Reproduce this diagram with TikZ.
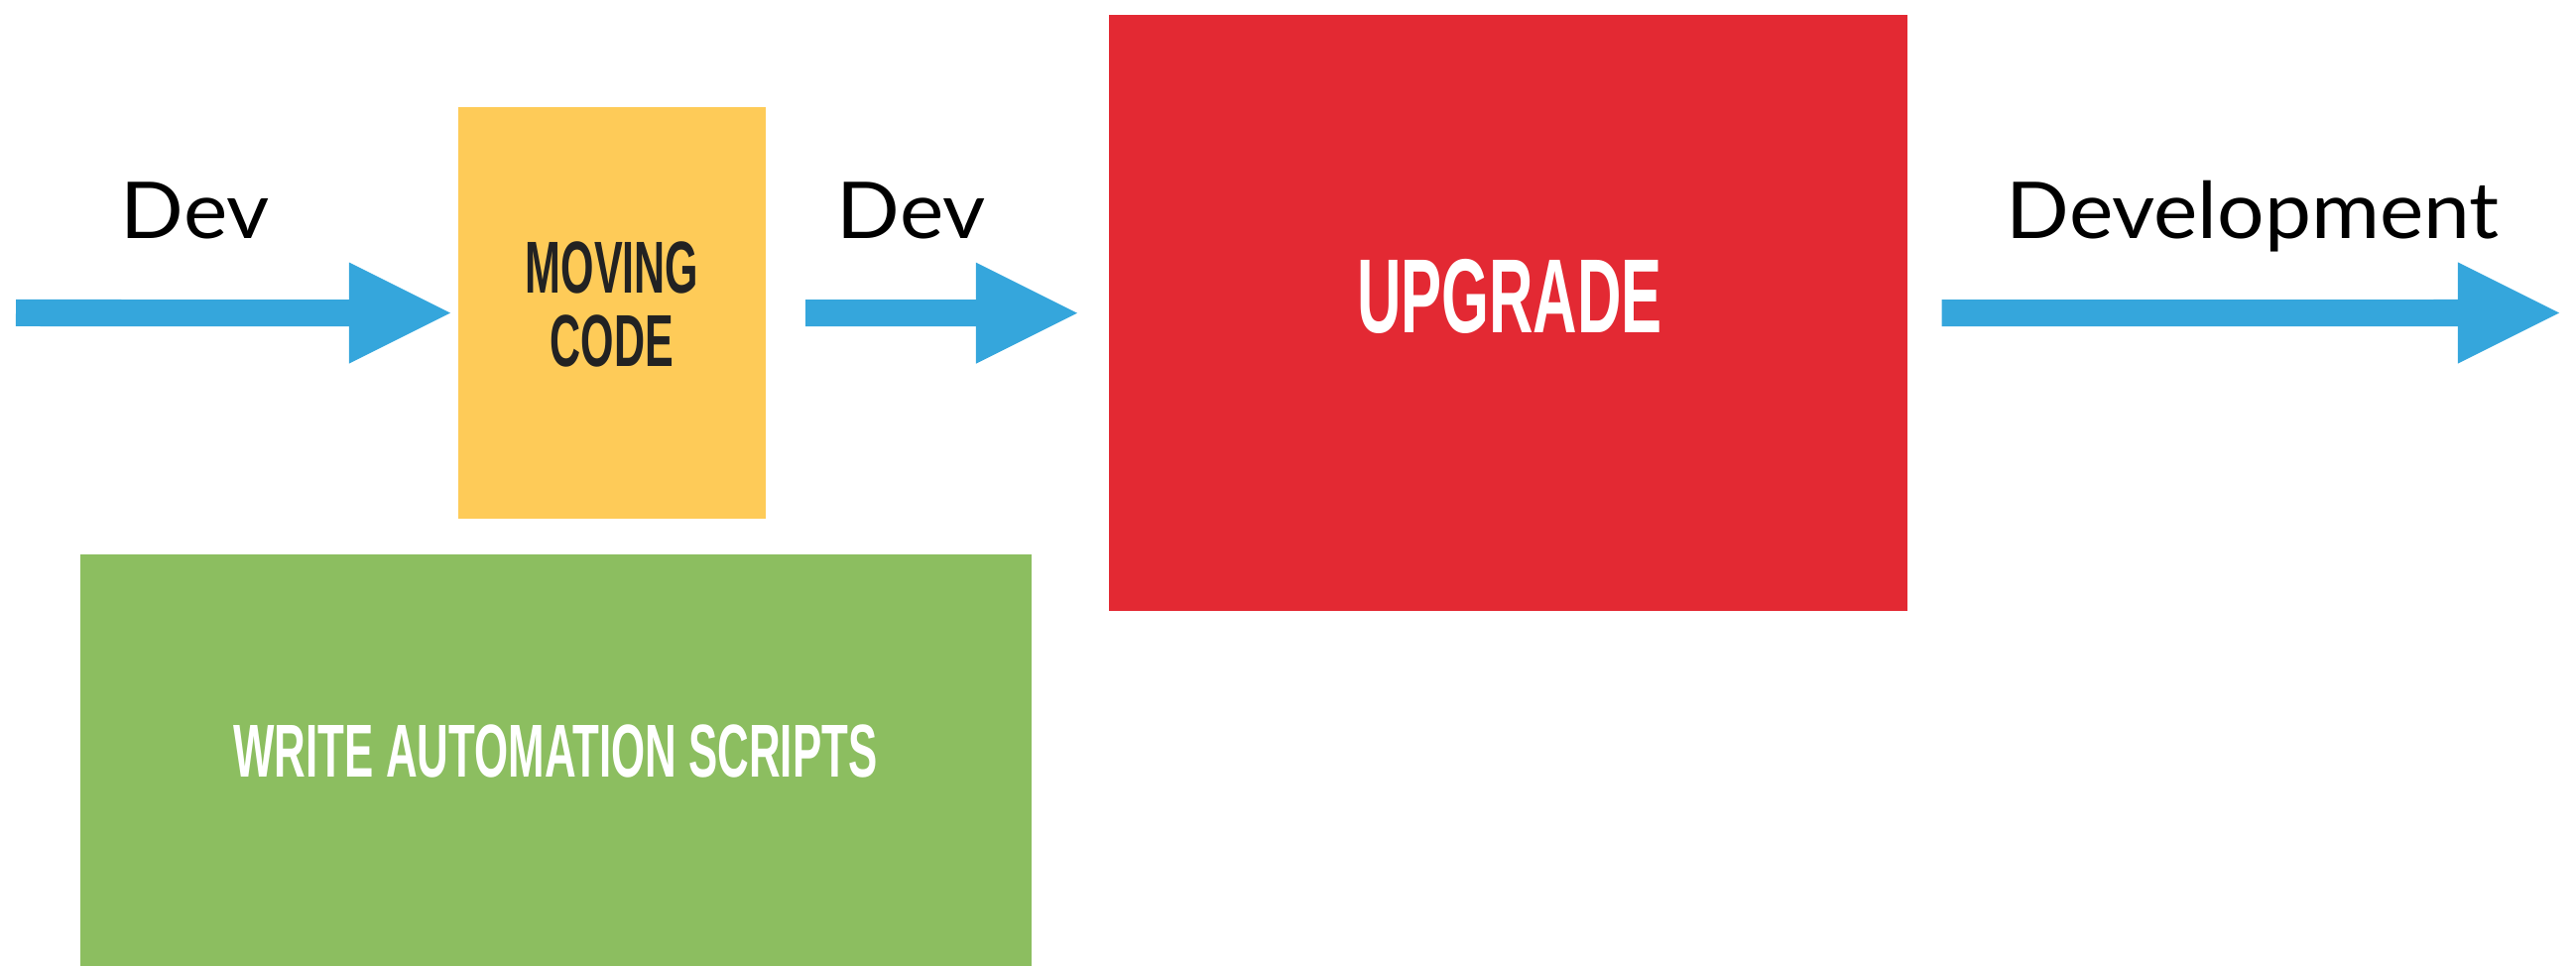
\documentclass[tikz,border=0pt]{standalone}
\usepackage{fontspec}
\usepackage{tikz}
\usetikzlibrary{%
	arrows.meta,%
	calc%
}
\newfontfamily\flowfont[FakeStretch=1.06]{Lato}
\newfontfamily\blockfont[FakeStretch=0.58]{Liberation Sans}
\definecolor{flowblue}{HTML}{35A6DC}
\definecolor{movingyellow}{HTML}{FECB58}
\definecolor{upgradered}{HTML}{E32933}
\definecolor{scriptgreen}{HTML}{8CBE60}
\definecolor{blockink}{HTML}{222222}

\begin{document}
\begin{tikzpicture}[x=0.01cm,y=-0.01cm,
		flow/.style={draw=flowblue, line width=0.27cm, -{Triangle[length=1.02cm,width=1.02cm,line width=0pt]}},
		block/.style={anchor=north west, inner sep=0pt, outer sep=0pt},
		flowlabel/.style={anchor=base west, inner sep=0pt, font=\flowfont\fontsize{22.5}{27}\selectfont},
		blocklabel/.style={inner sep=0pt, align=center, font=\blockfont\bfseries}
	]
		\useasboundingbox (0,0) rectangle (2597,974);
		\node[block, fill=movingyellow, minimum width=3.1cm, minimum height=4.15cm] (moving) at (462,108) {};
		\node[block, fill=upgradered, minimum width=8.05cm, minimum height=6.01cm] (upgrade) at (1118,15) {};
		\node[block, fill=scriptgreen, minimum width=9.58cm, minimum height=4.15cm] (scripts) at (81,559) {};
		\node[blocklabel, text=blockink, font=\blockfont\bfseries\fontsize{21.1}{21.3}\selectfont] (movingtext) at (617,307) {MOVING\\CODE};
		\node[blocklabel, text=white, font=\blockfont\bfseries\fontsize{30.2}{36}\selectfont] (upgradetext) at (1522,299) {UPGRADE};
		\node[blocklabel, text=white, font=\blockfont\bfseries\fontsize{21.5}{26}\selectfont] (scriptstext) at (560,757) {WRITE AUTOMATION SCRIPTS};
		\coordinate (in) at (16,315.5);
		\coordinate (out) at (2580,315.5);
		\draw[flow, shorten >=0.08cm] (in) -- (moving);
		\draw[flow, shorten <=0.4cm, shorten >=0.32cm] (moving) -- (upgrade);
		\draw[flow, shorten <=0.34cm] (upgrade) -- (out);
		\node[flowlabel] (devin) at (121,241) {Dev};
		\node[flowlabel] (devmid) at (843,241) {Dev};
		\node[flowlabel] (devout) at (2022,241) {Development};
	\end{tikzpicture}
\end{document}
